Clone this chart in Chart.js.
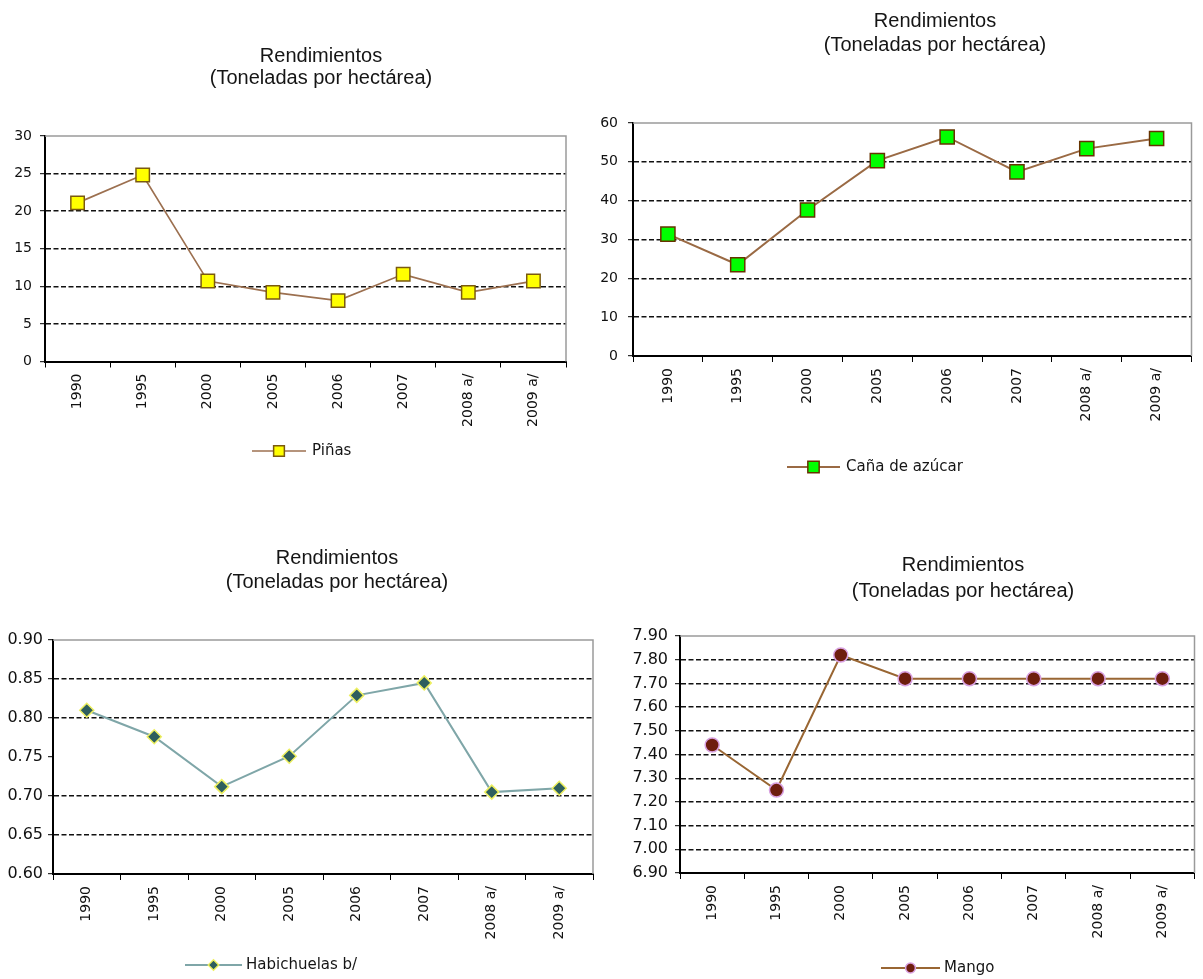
<!DOCTYPE html>
<html>
<head>
<meta charset="utf-8">
<script src="https://cdn.jsdelivr.net/npm/chart.js@4/dist/chart.umd.min.js"></script>
<style>
html,body{margin:0;padding:0;background:#fff;width:1203px;height:979px;overflow:hidden}
canvas{position:absolute;left:0;top:0}
</style>
</head>
<body>
<canvas id="c1" width="1203" height="979"></canvas>
<canvas id="c2" width="1203" height="979"></canvas>
<canvas id="c3" width="1203" height="979"></canvas>
<canvas id="c4" width="1203" height="979"></canvas>
<script>
// ---------- data ----------
const categories = ['1990', '1995', '2000', '2005', '2006', '2007', '2008 a/', '2009 a/'];
const pinas = [21.1, 24.8, 10.7, 9.2, 8.1, 11.6, 9.2, 10.7];
const cana = [31.4, 23.5, 37.6, 50.3, 56.4, 47.4, 53.4, 56.0];
const habichuelas = [0.810, 0.776, 0.712, 0.751, 0.829, 0.845, 0.705, 0.710];
const mango = [7.44, 7.25, 7.82, 7.72, 7.72, 7.72, 7.72, 7.72];

const seriesNames = ['Piñas', 'Caña de azúcar', 'Habichuelas b/', 'Mango'];
const titleLines = ['Rendimientos', '(Toneladas por hectárea)'];

const yTicksPinas = [0, 5, 10, 15, 20, 25, 30];
const yTicksCana = [0, 10, 20, 30, 40, 50, 60];
const yTicksHabichuelas = [0.60, 0.65, 0.70, 0.75, 0.80, 0.85, 0.90];
const yTicksMango = [6.90, 7.00, 7.10, 7.20, 7.30, 7.40, 7.50, 7.60, 7.70, 7.80, 7.90];
const hiddenGridHabichuelas = [0.75];

// ---------- layout / style ----------
const W = 1203, H = 979;
const Y_W = 50, X_H = 90;
const tickFont = {family: 'DejaVu Sans', size: 14};

const panelDecor = {
  id: 'panelDecor',
  beforeDatasetsDraw(chart, args, opts) {
    const {ctx, chartArea: a} = chart;
    ctx.save();
    ctx.strokeStyle = '#9a9a9a';
    ctx.lineWidth = 1.5;
    ctx.beginPath();
    ctx.moveTo(a.left, a.top);
    ctx.lineTo(a.right, a.top);
    ctx.lineTo(a.right, a.bottom);
    ctx.stroke();
    ctx.restore();
  },
  afterDraw(chart, args, opts) {
    const ctx = chart.ctx;
    ctx.save();
    // title
    ctx.fillStyle = '#151515';
    ctx.font = '20px "Liberation Sans", Arial, sans-serif';
    ctx.textAlign = 'center';
    ctx.textBaseline = 'middle';
    opts.titleLines.forEach((t, i) => ctx.fillText(t, opts.titleX, opts.titleY[i]));
    // legend
    const ds = chart.data.datasets[0];
    const lg = opts.legend;
    ctx.strokeStyle = ds.borderColor;
    ctx.lineWidth = ds.borderWidth;
    ctx.beginPath();
    ctx.moveTo(lg.x0, lg.y);
    ctx.lineTo(lg.x1, lg.y);
    ctx.stroke();
    ctx.fillStyle = ds.pointBackgroundColor;
    ctx.strokeStyle = ds.pointBorderColor;
    ctx.lineWidth = ds.pointBorderWidth;
    const po = {pointStyle: ds.pointStyle, radius: ds.pointRadius * lg.scale, borderWidth: ds.pointBorderWidth, rotation: 0};
    Chart.helpers.drawPoint(ctx, po, (lg.x0 + lg.x1) / 2, lg.y);
    ctx.fillStyle = '#151515';
    ctx.font = '15px "DejaVu Sans", sans-serif';
    ctx.textAlign = 'left';
    ctx.fillText(chart.data.datasets[0].label, lg.tx, lg.y);
    ctx.restore();
  }
};

function makeChart(id, cfg) {
  const a = cfg.area;
  const ticks = cfg.yTicks;
  const yMin = ticks[0], yMax = ticks[ticks.length - 1];
  const hidden = cfg.hiddenGrid || [];
  const near = (p, q) => Math.abs(p - q) < 1e-6;
  return new Chart(document.getElementById(id), {
    type: 'line',
    data: {
      labels: categories,
      datasets: [{
        label: cfg.label,
        data: cfg.data,
        borderColor: cfg.lineColor,
        borderWidth: cfg.lineWidth,
        pointStyle: cfg.pointStyle,
        pointRadius: cfg.pointRadius,
        pointHoverRadius: cfg.pointRadius,
        pointBackgroundColor: cfg.pointFill,
        pointBorderColor: cfg.pointBorder,
        pointBorderWidth: cfg.pointBorderWidth,
        tension: 0,
        clip: 12
      }]
    },
    options: {
      responsive: false,
      animation: false,
      devicePixelRatio: 1,
      layout: {padding: {left: a.l - Y_W, right: W - a.r, top: a.t, bottom: H - a.b - X_H}},
      plugins: {
        legend: {display: false},
        title: {display: false},
        tooltip: {enabled: false},
        panelDecor: {titleLines: titleLines, titleX: cfg.titleX, titleY: cfg.titleY, legend: cfg.legend}
      },
      scales: {
        x: {
          type: 'category',
          offset: true,
          afterFit: s => { s.height = X_H; },
          grid: {offset: true, drawOnChartArea: false, drawTicks: true, tickLength: 6, tickColor: '#000', tickWidth: 1},
          border: {display: true, color: '#000', width: 2},
          ticks: {autoSkip: false, minRotation: 90, maxRotation: 90, padding: 6, color: '#111', font: tickFont}
        },
        y: {
          type: 'linear',
          min: yMin,
          max: yMax,
          afterFit: s => { s.width = Y_W; },
          afterBuildTicks: s => { s.ticks = ticks.map(v => ({value: v})); },
          grid: {
            drawOnChartArea: true,
            drawTicks: true,
            tickLength: 5,
            tickColor: '#000',
            tickWidth: 1,
            lineWidth: 1.4,
            color: c => {
              const v = c.tick ? c.tick.value : null;
              if (v === null || near(v, yMin) || near(v, yMax) || hidden.some(h => near(h, v))) return 'rgba(0,0,0,0)';
              return '#111';
            }
          },
          border: {display: true, color: '#000', width: 2, dash: [5, 2.5]},
          ticks: {
            padding: cfg.yPad,
            color: '#111',
            font: cfg.yFont,
            callback: v => Number(v).toFixed(cfg.decimals)
          }
        }
      }
    },
    plugins: [panelDecor]
  });
}

makeChart('c1', {
  label: seriesNames[0], data: pinas, yTicks: yTicksPinas, decimals: 0,
  area: {l: 45, r: 566, t: 136, b: 361.5},
  titleX: 321, titleY: [56, 78],
  legend: {x0: 252, x1: 306, y: 451, tx: 312, scale: 0.8},
  lineColor: '#9c7050', lineWidth: 1.7,
  pointStyle: 'rect', pointRadius: 9.5, pointFill: '#ffff00', pointBorder: '#7a5a10', pointBorderWidth: 1.5,
  yPad: 8, yFont: {family: 'DejaVu Sans', size: 14}
});

makeChart('c2', {
  label: seriesNames[1], data: cana, yTicks: yTicksCana, decimals: 0,
  area: {l: 633, r: 1202, t: 123, b: 356},
  titleX: 935, titleY: [21, 45],
  legend: {x0: 787, x1: 840, y: 467, tx: 846, scale: 0.8},
  lineColor: '#9a6a44', lineWidth: 2,
  pointStyle: 'rect', pointRadius: 10, pointFill: '#00ff00', pointBorder: '#663300', pointBorderWidth: 1.5,
  yPad: 10, yFont: {family: 'DejaVu Sans', size: 14}
});

makeChart('c3', {
  label: seriesNames[2], data: habichuelas, yTicks: yTicksHabichuelas, decimals: 2, hiddenGrid: hiddenGridHabichuelas,
  area: {l: 53, r: 593, t: 640, b: 874},
  titleX: 337, titleY: [558, 582],
  legend: {x0: 185, x1: 242, y: 965, tx: 246, scale: 0.75},
  lineColor: '#7fa6a8', lineWidth: 2,
  pointStyle: 'rectRot', pointRadius: 7, pointFill: '#2e5e5e', pointBorder: '#eef060', pointBorderWidth: 1.5,
  yPad: 5, yFont: {family: 'DejaVu Sans', size: 16}
});

makeChart('c4', {
  label: seriesNames[3], data: mango, yTicks: yTicksMango, decimals: 2,
  area: {l: 680, r: 1203, t: 636, b: 873},
  titleX: 963, titleY: [565, 591],
  legend: {x0: 881, x1: 940, y: 968, tx: 944, scale: 0.7},
  lineColor: '#996633', lineWidth: 2,
  pointStyle: 'circle', pointRadius: 7, pointFill: '#6e1e0e', pointBorder: '#d8a0e0', pointBorderWidth: 1.5,
  yPad: 7, yFont: {family: 'DejaVu Sans', size: 16}
});
</script>
</body>
</html>
